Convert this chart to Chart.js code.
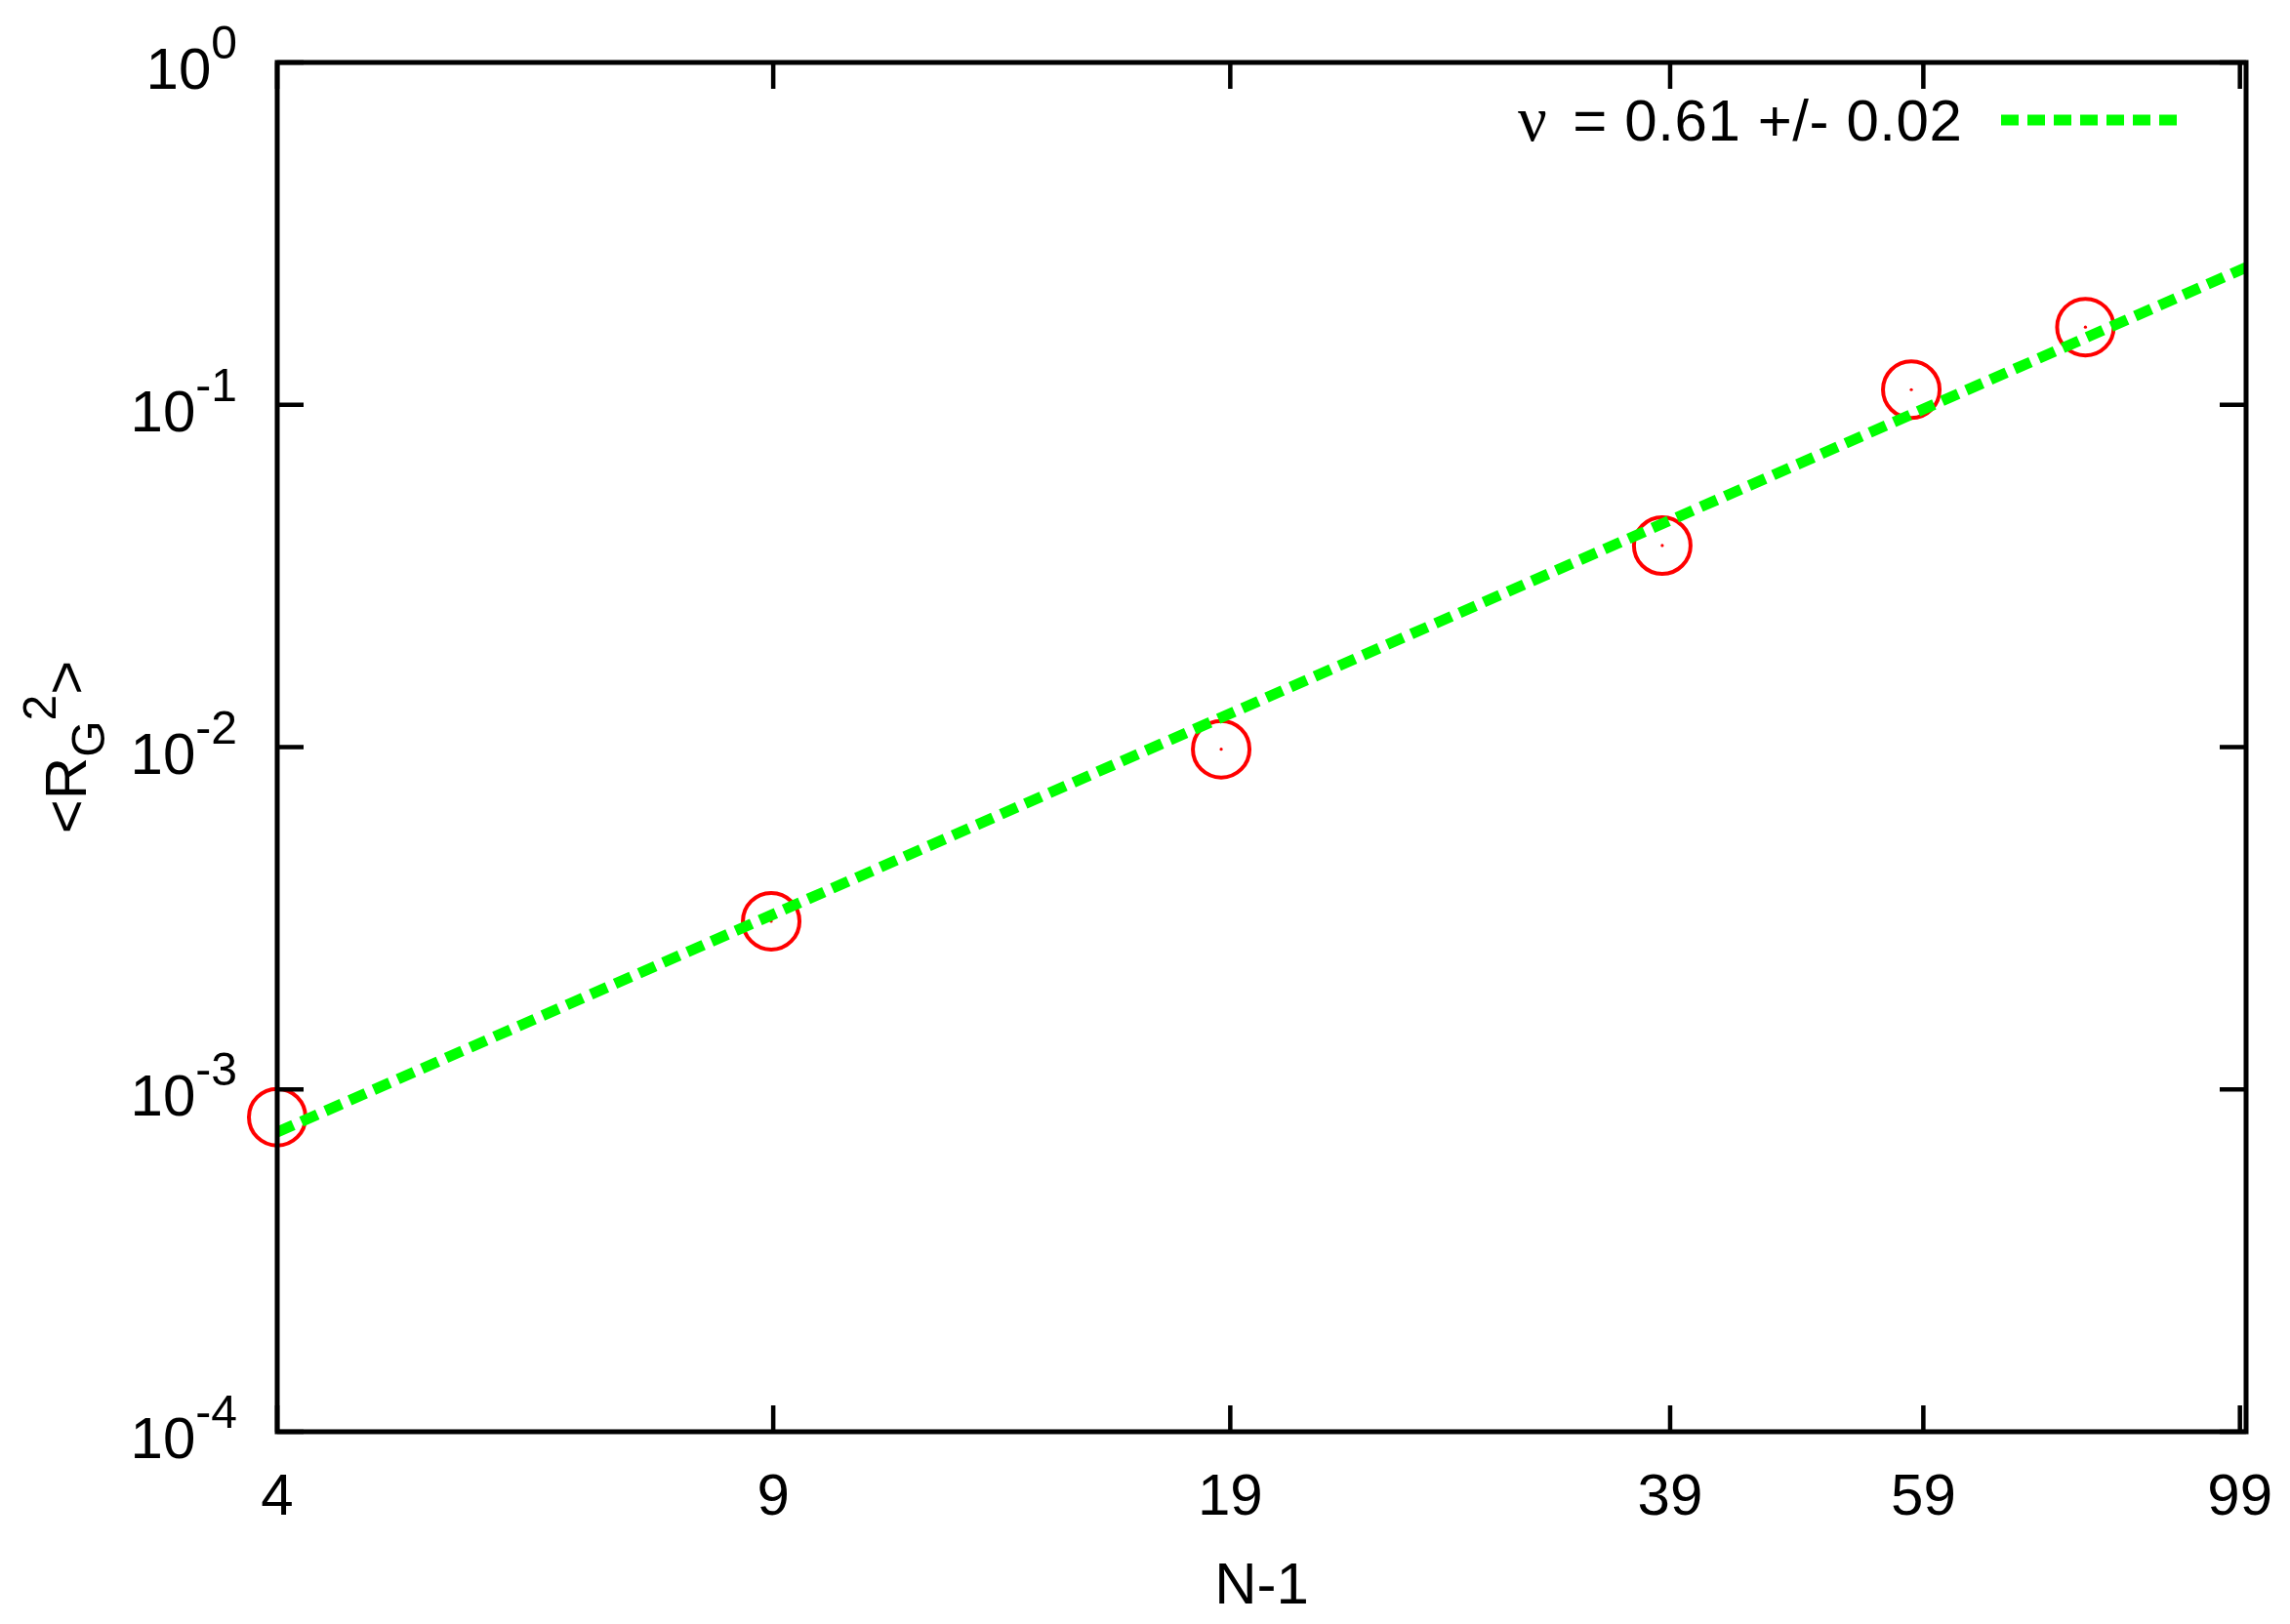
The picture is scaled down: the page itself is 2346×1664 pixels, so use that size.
<!DOCTYPE html>
<html><head><meta charset="utf-8">
<script src="https://cdn.jsdelivr.net/npm/chart.js@4/dist/chart.umd.min.js"></script>
<style>html,body{margin:0;padding:0;background:#fff;} #c{display:block;}</style>
</head><body>
<div style="width:2346px;height:1664px"><canvas id="c" width="2346" height="1664"></canvas></div>
<script>
// ---- data ----
const xValues = [4, 8.97, 18.72, 38.5, 57.85, 76.9];
const yValues = [8.3e-4, 3.10e-3, 9.86e-3, 0.0388, 0.1107, 0.1686];
const fitX = [4, 100];
const fitY = [7.5e-4, 0.252];
const xTickValues = [4, 9, 19, 39, 59, 99];
const xTickLabels = ['4', '9', '19', '39', '59', '99'];
const yTickValues = [1e-4, 1e-3, 1e-2, 1e-1, 1];
const yTickExponents = ['-4', '-3', '-2', '-1', '0'];
const fitSymbol = 'ν';
const fitLabel = ' = 0.61 +/- 0.02';
const xTitle = 'N-1';
const yTitleParts = [['<', 'base'], ['R', 'base'], ['G', 'sub'], ['2', 'sup'], ['>', 'base']];

const FONT = "'Liberation Sans', Arial, Helvetica, sans-serif";
const pts = xValues.map((x, i) => ({x: x, y: yValues[i]}));
const fitPts = fitX.map((x, i) => ({x: x, y: fitY[i]}));

const framePlugin = {
  id: 'frame',
  afterDraw(chart) {
    const {ctx, chartArea: a, scales: {x, y}} = chart;
    ctx.save();
    // inward tick marks on all four sides
    ctx.strokeStyle = '#000'; ctx.lineWidth = 4.5; ctx.lineCap = 'butt';
    const TL = 27;
    ctx.beginPath();
    xTickValues.forEach(v => {
      const px = x.getPixelForValue(v);
      ctx.moveTo(px, a.bottom); ctx.lineTo(px, a.bottom - TL);
      ctx.moveTo(px, a.top); ctx.lineTo(px, a.top + TL);
    });
    yTickValues.forEach(v => {
      const py = y.getPixelForValue(v);
      ctx.moveTo(a.left, py); ctx.lineTo(a.left + TL, py);
      ctx.moveTo(a.right, py); ctx.lineTo(a.right - TL, py);
    });
    ctx.stroke();
    // frame
    ctx.lineWidth = 5; ctx.lineJoin = 'miter';
    ctx.strokeRect(a.left, a.top, a.right - a.left, a.bottom - a.top);

    // y tick labels 10^n
    ctx.fillStyle = '#000'; ctx.textBaseline = 'alphabetic';
    const labRight = a.left - 41;
    yTickValues.forEach((v, i) => {
      const py = y.getPixelForValue(v);
      ctx.font = '48px ' + FONT; ctx.textAlign = 'right';
      const sup = yTickExponents[i];
      const sw = ctx.measureText(sup).width;
      ctx.fillText(sup, labRight, py - 4);
      ctx.font = '60px ' + FONT;
      ctx.fillText('10', labRight - sw, py + 27);
    });

    // y axis title <R_G^2>
    ctx.save();
    ctx.translate(88, (a.top + a.bottom) / 2);
    ctx.rotate(-Math.PI / 2);
    const sty = {base: [60, 0], sub: [48, 19], sup: [48, -31]};
    let total = 0;
    yTitleParts.forEach(([t, s]) => { ctx.font = sty[s][0] + 'px ' + FONT; total += ctx.measureText(t).width; });
    let cx = -total / 2;
    ctx.textAlign = 'left';
    yTitleParts.forEach(([t, s]) => {
      ctx.font = sty[s][0] + 'px ' + FONT;
      ctx.fillText(t, cx, sty[s][1]);
      cx += ctx.measureText(t).width;
    });
    ctx.restore();

    // x axis title
    ctx.font = '60px ' + FONT; ctx.textAlign = 'center';
    ctx.fillText(xTitle, (a.left + a.right) / 2, 1643);

    // legend (text then sample, gnuplot style)
    const legY = 123;
    ctx.textAlign = 'left';
    try { ctx.letterSpacing = '0.6px'; } catch (e) {}
    ctx.fillText(fitLabel, 1594, legY + 21);
    try { ctx.letterSpacing = '0px'; } catch (e) {}
    ctx.font = '66px "Liberation Serif", "DejaVu Serif", serif';
    ctx.fillText(fitSymbol, 1555, legY + 21);
    const ds = chart.data.datasets[0];
    ctx.strokeStyle = ds.borderColor; ctx.lineWidth = ds.borderWidth;
    ctx.setLineDash(ds.borderDash);
    ctx.beginPath(); ctx.moveTo(2050, legY); ctx.lineTo(2230, legY); ctx.stroke();
    ctx.restore();
  }
};

new Chart(document.getElementById('c').getContext('2d'), {
  type: 'scatter',
  data: {datasets: [
    {type: 'line', label: fitSymbol + fitLabel, data: fitPts, borderColor: '#00ff00', borderWidth: 11,
     borderDash: [18, 9], borderCapStyle: 'butt', pointRadius: 0, fill: false, tension: 0, order: 0},
    {label: 'data', data: pts, pointStyle: 'circle', pointRadius: 29, pointHoverRadius: 29, borderWidth: 4,
     borderColor: '#ff0000', backgroundColor: 'rgba(0,0,0,0)', clip: false, order: 1},
    {label: 'center', data: pts, pointRadius: 1.6, pointHoverRadius: 1.6, borderWidth: 0,
     borderColor: '#ff0000', backgroundColor: '#ff0000', clip: false, order: 2}
  ]},
  options: {
    responsive: false, animation: false, devicePixelRatio: 1, events: [],
    layout: {autoPadding: false, padding: {top: 64, right: 45, left: 0, bottom: 0}},
    plugins: {legend: {display: false}, tooltip: {enabled: false}},
    scales: {
      x: {type: 'logarithmic', min: 4, max: 100,
          grid: {display: false, drawTicks: false}, border: {display: false},
          afterBuildTicks: s => { s.ticks = xTickValues.map(v => ({value: v})); },
          afterFit: s => { s.height = 197; s.paddingLeft = 0; s.paddingRight = 0; s.paddingTop = 0; s.paddingBottom = 0; },
          ticks: {autoSkip: false, maxRotation: 0, minRotation: 0, padding: 32, color: '#000',
                  font: {family: FONT, size: 60},
                  callback: v => { const i = xTickValues.indexOf(v); return i >= 0 ? xTickLabels[i] : ''; }}},
      y: {type: 'logarithmic', min: 1e-4, max: 1,
          grid: {display: false, drawTicks: false}, border: {display: false},
          afterBuildTicks: s => { s.ticks = yTickValues.map(v => ({value: v})); },
          afterFit: s => { s.width = 284; s.paddingTop = 0; s.paddingBottom = 0; },
          ticks: {display: false}}
    }
  },
  plugins: [framePlugin]
});
</script>
</body></html>
